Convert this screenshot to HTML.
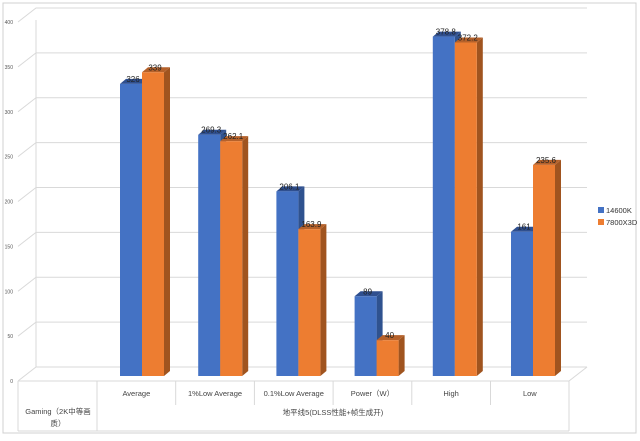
<!DOCTYPE html>
<html><head><meta charset="utf-8"><style>
body{margin:0;background:#fff}
svg text{font-family:"Liberation Sans","Noto Sans CJK SC",sans-serif}
</style></head><body>
<svg id="c" width="640" height="436" viewBox="0 0 640 436">
<rect x="3" y="3" width="633" height="430" fill="#fff" stroke="#d0d0d0"/>
<g id="grid"></g><g id="bars"></g><g id="table"></g>
<g>
<rect x="598" y="207" width="6" height="6" fill="#4472c4"/>
<text x="606" y="213" font-size="7.5" fill="#333">14600K</text>
<rect x="598" y="219" width="6" height="6" fill="#ed7d31"/>
<text x="606" y="225" font-size="7.5" fill="#333">7800X3D</text>
</g>
</svg>
<script>
const categories=["Average","1%Low Average","0.1%Low Average","Power（W）","High","Low"];
const series1=[326,269.3,206.1,89,378.8,161];
const series2=[339,262.1,163.9,40,372.2,235.6];
const labels1=["326","269.3","206.1","89","378.8","161"];
const labels2=["339","262.1","163.9","40","372.2","235.6"];
const ticks=[0,50,100,150,200,250,300,350,400];
const NS="http://www.w3.org/2000/svg";
function mk(p,t,a){const e=document.createElementNS(NS,t);for(const k in a)e.setAttribute(k,a[k]);p.appendChild(e);return e;}
const axisY=v=>381-v*0.8975;
const barY=v=>376-v*0.896;
const catX=i=>142+i*78.2;
const colX=i=>97+i*78.7+39.35;
const G=document.getElementById('grid');
ticks.forEach(t=>{const y=axisY(t);
 const l=mk(G,'polyline',{points:`18,${y} 36,${y-14} 587,${y-14}`,fill:'none',stroke:'#d9d9d9','stroke-width':1});
 
 const tx=mk(G,'text',{x:13,y:y+2,'font-size':5,'text-anchor':'end',fill:'#555'});tx.textContent=t;
 
});
const ax=mk(G,'line',{x1:36,y1:367,x2:36,y2:20,stroke:'#d9d9d9'});
const fl=mk(G,'line',{x1:569,y1:381,x2:587,y2:367,stroke:'#d9d9d9'});
const B=document.getElementById('bars');
function bar(x,v,c,side,top,lab,name){const y=barY(v),w=22,d=6,h=5;
 const g=mk(B,'g',{});
 mk(g,'polygon',{points:`${x+w},${y} ${x+w+d},${y-h} ${x+w+d},${376-h} ${x+w},376`,fill:side});
 mk(g,'polygon',{points:`${x},${y} ${x+d},${y-h} ${x+w+d},${y-h} ${x+w},${y}`,fill:top});
 mk(g,'rect',{x:x,y:y,width:w,height:376-y,fill:c});
 const t=mk(g,'text',{x:x+w/2+2,y:y-2,'font-size':8,'text-anchor':'middle',fill:'#222'});t.textContent=lab;
}
categories.forEach((c,i)=>{const cx=catX(i);
 bar(cx-22,series1[i],'#4472c4','#2f528f','#2f4f8f',labels1[i],'bar-14600k-'+i);
 bar(cx,series2[i],'#ed7d31','#a0541f','#b5612a',labels2[i],'bar-7800x3d-'+i);
});
const T=document.getElementById('table');
const ln=(a,b,c,d,n)=>{const e=mk(T,'line',{x1:a,y1:b,x2:c,y2:d,stroke:'#d9d9d9'});};
ln(18,381,569,381,'table-top');ln(18,431,569,431,'table-bottom');
ln(18,381,18,431,'table-left');ln(97,381,97,431,'table-col-1');ln(569,381,569,431,'table-right');
for(let i=1;i<6;i++)ln(97+i*78.7,381,97+i*78.7,405,'table-divider-'+i);
categories.forEach((c,i)=>{const t=mk(T,'text',{x:colX(i),y:396,'font-size':7.5,'text-anchor':'middle',fill:'#444'});t.textContent=c;
 });
const g1=mk(T,'text',{x:58,y:414,'font-size':7.5,'text-anchor':'middle',fill:'#444'});g1.textContent='Gaming（2K中等画';

const g2=mk(T,'text',{x:58,y:426,'font-size':7.5,'text-anchor':'middle',fill:'#444'});g2.textContent='质）';

const g3=mk(T,'text',{x:333,y:415,'font-size':7.5,'text-anchor':'middle',fill:'#444'});g3.textContent='地平线5(DLSS性能+帧生成开)';

</script>
</body></html>
